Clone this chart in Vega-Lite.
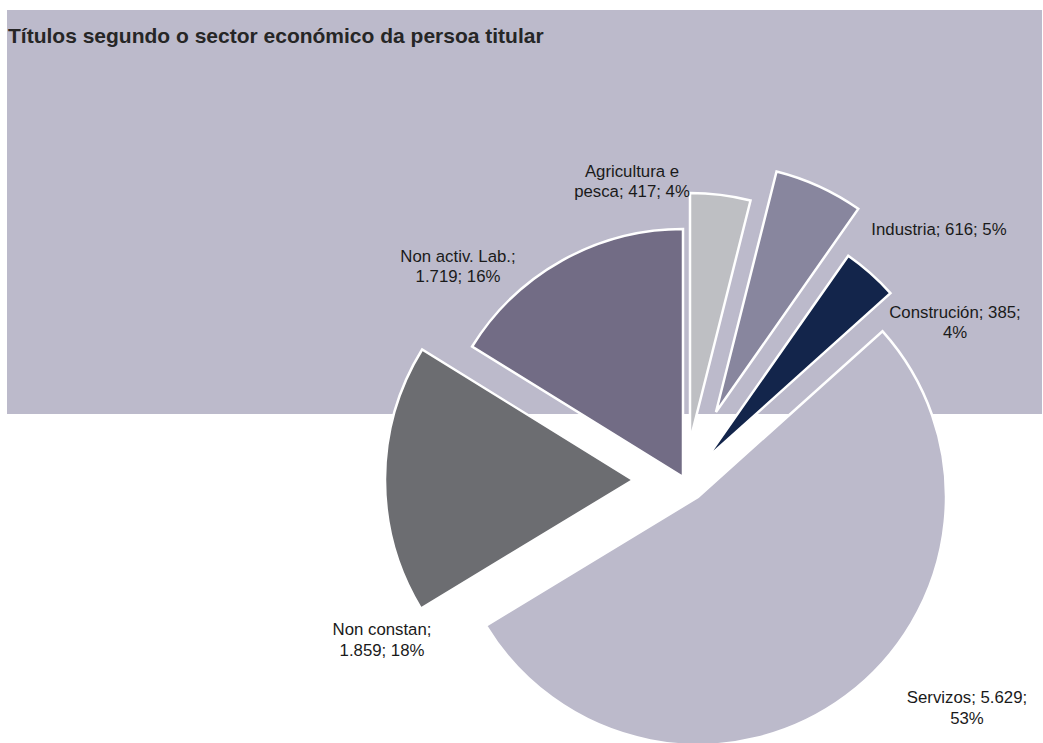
{
  "$schema": "https://vega.github.io/schema/vega-lite/v6.json",
  "width": 1035,
  "height": 404,
  "autosize": {"type": "none"},
  "padding": {"left": 7, "top": 10, "right": 1, "bottom": 329},
  "background": "white",
  "view": {"fill": "#BCBACB", "stroke": null},
  "title": {
    "text": "Títulos segundo o sector económico da persoa titular",
    "anchor": "start",
    "frame": "group",
    "orient": "top",
    "offset": -54,
    "baseline": "alphabetic",
    "font": "Liberation Sans",
    "fontSize": 21,
    "fontWeight": "bold",
    "color": "#262626",
    "dx": 1
  },
  "data": {
    "values": [
      {"order": 1, "sector": "Agricultura e pesca", "value": 417, "label": "Agricultura e\npesca; 417; 4%"},
      {"order": 2, "sector": "Industria", "value": 616, "label": "Industria; 616; 5%"},
      {"order": 3, "sector": "Construción", "value": 385, "label": "Construción; 385;\n4%"},
      {"order": 4, "sector": "Servizos", "value": 5629, "label": "Servizos; 5.629;\n53%"},
      {"order": 5, "sector": "Non constan", "value": 1859, "label": "Non constan;\n1.859; 18%"},
      {"order": 6, "sector": "Non activ. Lab.", "value": 1719, "label": "Non activ.  Lab.;\n1.719; 16%"}
    ]
  },
  "transform": [
    {"stack": "value", "groupby": [], "sort": [{"field": "order", "order": "ascending"}], "as": ["t0", "t1"]}
  ],
  "encoding": {
    "theta": {"field": "t0", "type": "quantitative", "scale": {"domain": [0, 10625]}},
    "theta2": {"field": "t1"},
    "color": {
      "field": "sector",
      "type": "nominal",
      "legend": null,
      "scale": {
        "domain": ["Agricultura e pesca", "Industria", "Construción", "Servizos", "Non constan", "Non activ. Lab."],
        "range": ["#BEBFC3", "#88869E", "#13254B", "#BCBACB", "#6C6D71", "#726C85"]
      }
    }
  },
  "layer": [
    {"transform": [{"filter": "datum.order == 1"}],
     "mark": {"type": "arc", "radius": 248, "x": 683, "y": 431, "stroke": "white", "strokeWidth": 2.5}},
    {"transform": [{"filter": "datum.order == 2"}],
     "mark": {"type": "arc", "radius": 248, "x": 709, "y": 402, "stroke": "white", "strokeWidth": 2.5}},
    {"transform": [{"filter": "datum.order == 3"}],
     "mark": {"type": "arc", "radius": 248, "x": 699, "y": 449, "stroke": "white", "strokeWidth": 2.5}},
    {"transform": [{"filter": "datum.order == 4"}],
     "mark": {"type": "arc", "radius": 248, "x": 691, "y": 487, "stroke": "white", "strokeWidth": 2.5}},
    {"transform": [{"filter": "datum.order == 5"}],
     "mark": {"type": "arc", "radius": 248, "x": 626, "y": 470, "stroke": "white", "strokeWidth": 2.5}},
    {"transform": [{"filter": "datum.order == 6"}],
     "mark": {"type": "arc", "radius": 248, "x": 676, "y": 467, "stroke": "white", "strokeWidth": 2.5}},
    {"transform": [{"filter": "datum.order == 1"}],
     "mark": {"type": "text", "x": 625, "y": 167, "align": "center", "baseline": "alphabetic", "lineBreak": "\n", "lineHeight": 19.5, "font": "Liberation Sans", "fontSize": 16.8, "color": "#1A1A1A"},
     "encoding": {"theta": null, "theta2": null, "color": null, "text": {"field": "label"}}},
    {"transform": [{"filter": "datum.order == 2"}],
     "mark": {"type": "text", "x": 932, "y": 225, "align": "center", "baseline": "alphabetic", "lineBreak": "\n", "lineHeight": 19.5, "font": "Liberation Sans", "fontSize": 16.8, "color": "#1A1A1A"},
     "encoding": {"theta": null, "theta2": null, "color": null, "text": {"field": "label"}}},
    {"transform": [{"filter": "datum.order == 3"}],
     "mark": {"type": "text", "x": 948, "y": 308, "align": "center", "baseline": "alphabetic", "lineBreak": "\n", "lineHeight": 19.5, "font": "Liberation Sans", "fontSize": 16.8, "color": "#1A1A1A"},
     "encoding": {"theta": null, "theta2": null, "color": null, "text": {"field": "label"}}},
    {"transform": [{"filter": "datum.order == 4"}],
     "mark": {"type": "text", "x": 960, "y": 693, "align": "center", "baseline": "alphabetic", "lineBreak": "\n", "lineHeight": 20.5, "font": "Liberation Sans", "fontSize": 16.8, "color": "#1A1A1A"},
     "encoding": {"theta": null, "theta2": null, "color": null, "text": {"field": "label"}}},
    {"transform": [{"filter": "datum.order == 5"}],
     "mark": {"type": "text", "x": 375, "y": 625, "align": "center", "baseline": "alphabetic", "lineBreak": "\n", "lineHeight": 20.5, "font": "Liberation Sans", "fontSize": 16.8, "color": "#1A1A1A"},
     "encoding": {"theta": null, "theta2": null, "color": null, "text": {"field": "label"}}},
    {"transform": [{"filter": "datum.order == 6"}],
     "mark": {"type": "text", "x": 451, "y": 252, "align": "center", "baseline": "alphabetic", "lineBreak": "\n", "lineHeight": 20, "font": "Liberation Sans", "fontSize": 16.8, "color": "#1A1A1A"},
     "encoding": {"theta": null, "theta2": null, "color": null, "text": {"field": "label"}}}
  ]
}
